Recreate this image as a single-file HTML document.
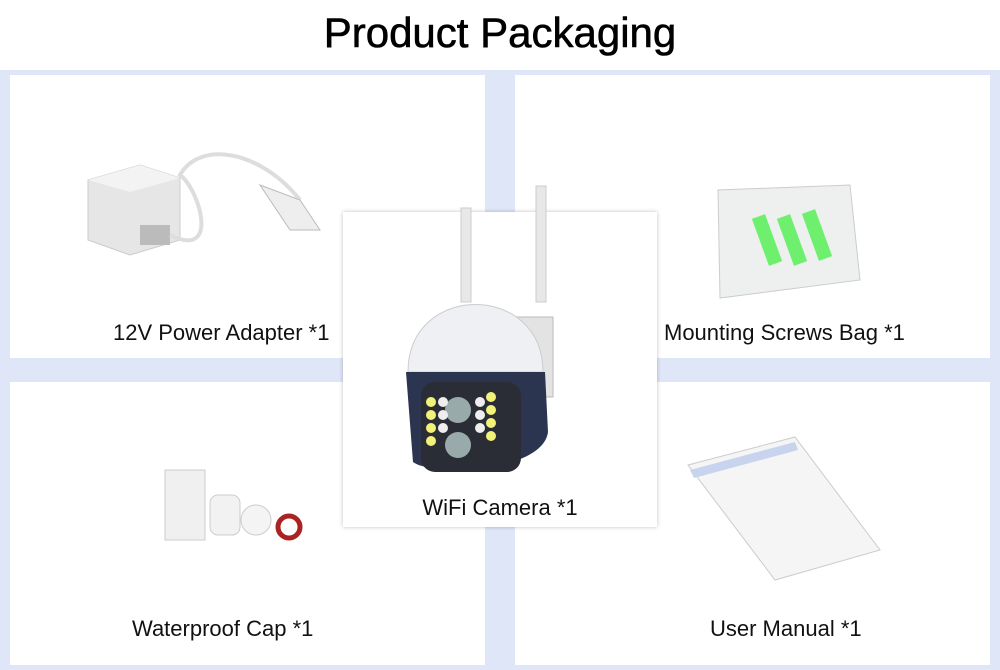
<!DOCTYPE html>
<html><head><style>
body{margin:0;width:1000px;height:670px;position:relative;background:#dfe6f8;font-family:"Liberation Sans",sans-serif;overflow:hidden}
.top{position:absolute;left:0;top:0;width:1000px;height:70px;background:#fff;text-align:center}
.top h1{margin:0;font-weight:normal;font-size:42px;line-height:66px;color:#000;-webkit-text-stroke:0.6px #000}
.p{position:absolute;background:#fff}
.l{position:absolute;font-size:22px;color:#111;white-space:nowrap}
.c{position:absolute;left:343px;top:212px;width:314px;height:315px;background:#fff;box-shadow:0 0 4px rgba(0,0,0,.25)}
</style></head><body>
<div class="top"><h1>Product Packaging</h1></div>
<div class="p" style="left:10px;top:75px;width:475px;height:283px"></div>
<div class="p" style="left:515px;top:75px;width:475px;height:283px"></div>
<div class="p" style="left:10px;top:382px;width:475px;height:283px"></div>
<div class="p" style="left:515px;top:382px;width:475px;height:283px"></div>
<div class="l" style="left:113px;top:320px">12V Power Adapter *1</div>
<div class="l" style="left:664px;top:320px">Mounting Screws Bag *1</div>
<div class="l" style="left:132px;top:616px">Waterproof Cap *1</div>
<div class="l" style="left:710px;top:616px">User Manual *1</div>
<svg style="position:absolute;left:0;top:0" width="1000" height="670">
<path d="M88 180 L140 165 L180 178 L180 240 L130 255 L88 240Z" fill="#e6e6e6" stroke="#ccc"/>
<path d="M88 180 L140 165 L180 178 L130 192Z" fill="#f3f3f3"/>
<rect x="140" y="225" width="30" height="20" fill="#bbb"/>
<path d="M170 235 C220 260 200 190 180 175 C200 140 260 150 300 200" stroke="#ddd" stroke-width="4" fill="none"/>
<path d="M260 185 L300 200 L320 230 L290 230Z" fill="#eee" stroke="#bbb"/>
<path d="M718 190 L850 185 L860 280 L720 298Z" fill="#eef0f0" stroke="#ccc"/>
<g fill="#6ef06e"><rect x="760" y="215" width="14" height="50" transform="rotate(-20 767 240)"/><rect x="785" y="215" width="14" height="50" transform="rotate(-20 792 240)"/><rect x="810" y="210" width="14" height="50" transform="rotate(-20 817 235)"/></g>
<rect x="165" y="470" width="40" height="70" fill="#f0f0f0" stroke="#ccc"/>
<rect x="210" y="495" width="30" height="40" rx="8" fill="#f2f2f2" stroke="#ccc"/>
<circle cx="256" cy="520" r="15" fill="#f4f4f4" stroke="#ccc"/>
<circle cx="289" cy="527" r="11" fill="none" stroke="#a22" stroke-width="5"/>
<path d="M688 465 L795 437 L880 550 L775 580Z" fill="#f5f5f5" stroke="#ccc"/>
<path d="M690 470 L795 442 L798 450 L694 478Z" fill="#c8d4ee"/>
</svg>
<div class="c"></div>
<svg style="position:absolute;left:343px;top:212px;overflow:visible" width="314" height="315">
<rect x="118" y="-4" width="10" height="94" fill="#e8e8e8" stroke="#ccc"/>
<rect x="193" y="-26" width="10" height="116" fill="#e8e8e8" stroke="#ccc"/>
<rect x="170" y="105" width="40" height="80" fill="#e3e3e3" stroke="#bbb"/>
<path d="M65 160 C65 70 200 70 200 160Z" fill="#eef0f3" stroke="#ccc"/>
<path d="M63 160 L202 160 L205 220 C200 260 90 265 70 250 L63 160Z" fill="#2b3550"/>
<rect x="78" y="170" width="100" height="90" rx="14" fill="#2a2d35"/>
<circle cx="115" cy="198" r="13" fill="#9aa"/><circle cx="115" cy="233" r="13" fill="#9aa"/>
<g fill="#f2f27a"><circle cx="88" cy="190" r="5"/><circle cx="88" cy="203" r="5"/><circle cx="88" cy="216" r="5"/><circle cx="88" cy="229" r="5"/><circle cx="148" cy="185" r="5"/><circle cx="148" cy="198" r="5"/><circle cx="148" cy="211" r="5"/><circle cx="148" cy="224" r="5"/></g>
<g fill="#eee"><circle cx="100" cy="190" r="5"/><circle cx="100" cy="203" r="5"/><circle cx="100" cy="216" r="5"/><circle cx="137" cy="190" r="5"/><circle cx="137" cy="203" r="5"/><circle cx="137" cy="216" r="5"/></g>
<text x="157" y="303" text-anchor="middle" font-family="Liberation Sans" font-size="22" fill="#111">WiFi Camera *1</text>
</svg>
</body></html>
